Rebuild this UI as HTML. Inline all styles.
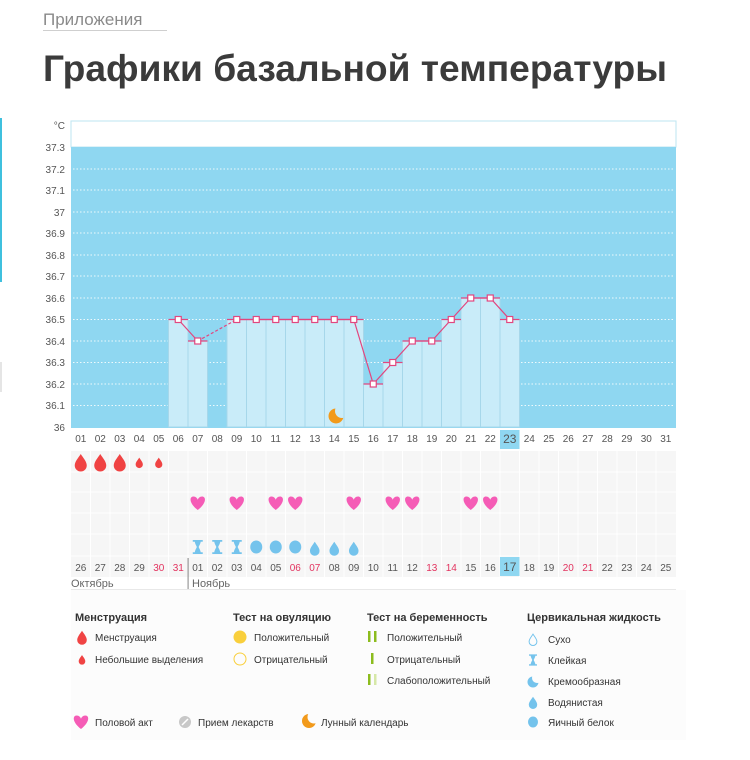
<!DOCTYPE html>
<html><head><meta charset="utf-8"><style>
html,body{margin:0;padding:0;background:#fff;width:750px;height:760px;overflow:hidden}
svg{display:block;font-family:"Liberation Sans",sans-serif}
</style></head><body>
<svg width="750" height="760" viewBox="0 0 750 760" xmlns="http://www.w3.org/2000/svg">
<defs>
<path id="hrt" d="M0,6 C-9,-1 -8.5,-7.5 -4.3,-7.5 C-2,-7.5 -0.6,-6 0,-4.3 C0.6,-6 2,-7.5 4.3,-7.5 C8.5,-7.5 9,-1 0,6Z" fill="#f55cb6"/>
<path id="drp" d="M0,-9 C2.5,-5 6,-1.5 6,2.5 A6,6 0 0 1 -6,2.5 C-6,-1.5 -2.5,-5 0,-9Z"/>
<path id="hg" d="M-5,-7 H5 V-5.3 H3 C2.3,-2 1,-1 1,0 C1,1 2.3,2 3,5.3 H5 V7 H-5 V5.3 H-3 C-2.3,2 -1,1 -1,0 C-1,-1 -2.3,-2 -3,-5.3 H-5Z" fill="#74c3ec"/>
<mask id="m1"><rect x="0" y="0" width="750" height="760" fill="#fff"/><circle cx="342" cy="411" r="7" fill="#000"/></mask>
<mask id="m2"><rect x="0" y="0" width="750" height="760" fill="#fff"/><circle cx="314" cy="717" r="6.5" fill="#000"/></mask>
<mask id="m3"><rect x="0" y="0" width="750" height="760" fill="#fff"/><circle cx="537" cy="678" r="5" fill="#000"/></mask>
</defs>
<rect x="0" y="118" width="2" height="164" fill="#3fc0de"/>
<rect x="0" y="362" width="2" height="30" fill="#e5e5e5"/>
<text x="43" y="25" font-size="17" fill="#8a8a8a">Приложения</text>
<rect x="43" y="30" width="124" height="1" fill="#cfcfcf"/>
<text x="43" y="81" font-size="37" font-weight="bold" fill="#3b3b3b" textLength="624" lengthAdjust="spacingAndGlyphs">Графики базальной температуры</text>

<rect x="71" y="121" width="605" height="26" fill="#fff" stroke="#bde5f2"/>
<rect x="71" y="147" width="605" height="281" fill="#8fd7f1"/>
<g stroke="#fff" stroke-dasharray="1.5 2" stroke-width="1" opacity="0.85">
<line x1="73" x2="675" y1="169" y2="169"/><line x1="73" x2="675" y1="190" y2="190"/><line x1="73" x2="675" y1="212" y2="212"/><line x1="73" x2="675" y1="233" y2="233"/><line x1="73" x2="675" y1="255" y2="255"/><line x1="73" x2="675" y1="276" y2="276"/><line x1="73" x2="675" y1="298" y2="298"/><line x1="73" x2="675" y1="319.5" y2="319.5"/><line x1="73" x2="675" y1="341" y2="341"/><line x1="73" x2="675" y1="362.5" y2="362.5"/><line x1="73" x2="675" y1="384" y2="384"/><line x1="73" x2="675" y1="405.5" y2="405.5"/>
</g>
<g fill="#c9ecf9" stroke="#a6d7ea" stroke-width="1">
<rect x="168.5" y="319.5" width="19.5" height="107.5"/>
<rect x="188" y="341" width="19.5" height="86"/>
<rect x="227" y="319.5" width="19.5" height="107.5"/>
<rect x="246.5" y="319.5" width="19.5" height="107.5"/>
<rect x="266" y="319.5" width="19.5" height="107.5"/>
<rect x="285.5" y="319.5" width="19.5" height="107.5"/>
<rect x="305" y="319.5" width="19.5" height="107.5"/>
<rect x="324.5" y="319.5" width="19.5" height="107.5"/>
<rect x="344" y="319.5" width="19.5" height="107.5"/>
<rect x="363.5" y="384" width="19.5" height="43"/>
<rect x="383" y="362.5" width="19.5" height="64.5"/>
<rect x="402.5" y="341" width="19.5" height="86"/>
<rect x="422" y="341" width="19.5" height="86"/>
<rect x="441.5" y="319.5" width="19.5" height="107.5"/>
<rect x="461" y="298" width="19.5" height="129"/>
<rect x="480.5" y="298" width="19.5" height="129"/>
<rect x="500" y="319.5" width="19.5" height="107.5"/>
</g>
<g stroke="#e2467f" stroke-width="1.2" fill="none">
<path d="M168.5,319.5h19.5 M188,341h19.5 M227,319.5h136.5 M363.5,384h19.5 M383,362.5h19.5 M402.5,341h39 M441.5,319.5h19.5 M461,298h39 M500,319.5h19.5"/>
<polyline points="178.25,319.5 197.75,341"/>
<polyline points="197.75,341 236.75,319.5" stroke-dasharray="3 2"/>
<polyline points="236.75,319.5 353.75,319.5 373.25,384 392.75,362.5 412.25,341 431.75,341 451.25,319.5 470.75,298 490.25,298 509.75,319.5"/>
</g>
<g fill="#fff" stroke="#e2467f" stroke-width="1.2">
<rect x="175.25" y="316.5" width="6" height="6"/><rect x="194.75" y="338" width="6" height="6"/>
<rect x="233.75" y="316.5" width="6" height="6"/><rect x="253.25" y="316.5" width="6" height="6"/><rect x="272.75" y="316.5" width="6" height="6"/><rect x="292.25" y="316.5" width="6" height="6"/><rect x="311.75" y="316.5" width="6" height="6"/><rect x="331.25" y="316.5" width="6" height="6"/><rect x="350.75" y="316.5" width="6" height="6"/>
<rect x="370.25" y="381" width="6" height="6"/><rect x="389.75" y="359.5" width="6" height="6"/><rect x="409.25" y="338" width="6" height="6"/><rect x="428.75" y="338" width="6" height="6"/><rect x="448.25" y="316.5" width="6" height="6"/><rect x="467.75" y="295" width="6" height="6"/><rect x="487.25" y="295" width="6" height="6"/><rect x="506.75" y="316.5" width="6" height="6"/>
</g>
<circle cx="336" cy="416" r="7.5" fill="#f29a1b" mask="url(#m1)"/>
<g font-size="10" fill="#555" text-anchor="end">
<text x="65" y="129">°C</text><text x="65" y="151">37.3</text><text x="65" y="173">37.2</text><text x="65" y="194">37.1</text><text x="65" y="216">37</text><text x="65" y="237">36.9</text><text x="65" y="259">36.8</text><text x="65" y="280">36.7</text><text x="65" y="302">36.6</text><text x="65" y="323">36.5</text><text x="65" y="345">36.4</text><text x="65" y="366">36.3</text><text x="65" y="388">36.2</text><text x="65" y="409">36.1</text><text x="65" y="431">36</text>
</g>
<rect x="500" y="430" width="19.5" height="19" fill="#8fd7f1"/>
<g font-size="10" fill="#555" text-anchor="middle">
<text x="80.75" y="442">01</text><text x="100.25" y="442">02</text><text x="119.75" y="442">03</text><text x="139.25" y="442">04</text><text x="158.75" y="442">05</text><text x="178.25" y="442">06</text><text x="197.75" y="442">07</text><text x="217.25" y="442">08</text><text x="236.75" y="442">09</text><text x="256.25" y="442">10</text><text x="275.75" y="442">11</text><text x="295.25" y="442">12</text><text x="314.75" y="442">13</text><text x="334.25" y="442">14</text><text x="353.75" y="442">15</text><text x="373.25" y="442">16</text><text x="392.75" y="442">17</text><text x="412.25" y="442">18</text><text x="431.75" y="442">19</text><text x="451.25" y="442">20</text><text x="470.75" y="442">21</text><text x="490.25" y="442">22</text><text x="509.75" y="443" font-size="12">23</text><text x="529.25" y="442">24</text><text x="548.75" y="442">25</text><text x="568.25" y="442">26</text><text x="587.75" y="442">27</text><text x="607.25" y="442">28</text><text x="626.75" y="442">29</text><text x="646.25" y="442">30</text><text x="665.75" y="442">31</text>
</g>

<rect x="71" y="451" width="605" height="126" fill="#f6f6f6"/>
<g stroke="#fff" stroke-width="1">
<path d="M71,472H676M71,492H676M71,513H676M71,534H676M71,556H676"/>
<path d="M90.5,451V577M110,451V577M129.5,451V577M149,451V577M168.5,451V577M188,451V577M207.5,451V577M227,451V577M246.5,451V577M266,451V577M285.5,451V577M305,451V577M324.5,451V577M344,451V577M363.5,451V577M383,451V577M402.5,451V577M422,451V577M441.5,451V577M461,451V577M480.5,451V577M500,451V577M519.5,451V577M539,451V577M558.5,451V577M578,451V577M597.5,451V577M617,451V577M636.5,451V577M656,451V577"/>
</g>
<g fill="#f04343">
<use href="#drp" x="80.75" y="463"/><use href="#drp" x="100.25" y="463"/><use href="#drp" x="119.75" y="463"/>
<use href="#drp" transform="translate(139.25,463) scale(0.6)"/><use href="#drp" transform="translate(158.75,463) scale(0.6)"/>
</g>
<use href="#hrt" x="197.75" y="504"/><use href="#hrt" x="236.75" y="504"/><use href="#hrt" x="275.75" y="504"/><use href="#hrt" x="295.25" y="504"/><use href="#hrt" x="353.75" y="504"/><use href="#hrt" x="392.75" y="504"/><use href="#hrt" x="412.25" y="504"/><use href="#hrt" x="470.75" y="504"/><use href="#hrt" x="490.25" y="504"/>
<use href="#hg" x="197.75" y="547"/><use href="#hg" x="217.25" y="547"/><use href="#hg" x="236.75" y="547"/>
<g fill="#74c3ec">
<ellipse cx="256.25" cy="547" rx="6" ry="6.5"/><ellipse cx="275.75" cy="547" rx="6" ry="6.5"/><ellipse cx="295.25" cy="547" rx="6" ry="6.5"/>
<use href="#drp" transform="translate(314.75,549) scale(0.8)"/><use href="#drp" transform="translate(334.25,549) scale(0.8)"/><use href="#drp" transform="translate(353.75,549) scale(0.8)"/>
</g>
<rect x="500" y="557" width="19.5" height="19" fill="#8fd7f1"/>
<g font-size="10" fill="#555" text-anchor="middle">
<text x="80.75" y="571">26</text><text x="100.25" y="571">27</text><text x="119.75" y="571">28</text><text x="139.25" y="571">29</text><text x="158.75" y="571" fill="#e2335f">30</text><text x="178.25" y="571" fill="#e2335f">31</text><text x="197.75" y="571">01</text><text x="217.25" y="571">02</text><text x="236.75" y="571">03</text><text x="256.25" y="571">04</text><text x="275.75" y="571">05</text><text x="295.25" y="571" fill="#e2335f">06</text><text x="314.75" y="571" fill="#e2335f">07</text><text x="334.25" y="571">08</text><text x="353.75" y="571">09</text><text x="373.25" y="571">10</text><text x="392.75" y="571">11</text><text x="412.25" y="571">12</text><text x="431.75" y="571" fill="#e2335f">13</text><text x="451.25" y="571" fill="#e2335f">14</text><text x="470.75" y="571">15</text><text x="490.25" y="571">16</text><text x="509.75" y="571" font-size="12">17</text><text x="529.25" y="571">18</text><text x="548.75" y="571">19</text><text x="568.25" y="571" fill="#e2335f">20</text><text x="587.75" y="571" fill="#e2335f">21</text><text x="607.25" y="571">22</text><text x="626.75" y="571">23</text><text x="646.25" y="571">24</text><text x="665.75" y="571">25</text>
</g>
<rect x="187.5" y="558" width="1.2" height="31" fill="#999"/>
<text x="71" y="587" font-size="11" fill="#666">Октябрь</text>
<text x="192" y="587" font-size="11" fill="#666">Ноябрь</text>
<rect x="71" y="589" width="605" height="1" fill="#e8e8e8"/>
<rect x="71" y="590" width="615" height="150" fill="#fcfcfc"/>

<g font-size="11" font-weight="bold" fill="#333">
<text x="75" y="621">Менструация</text><text x="233" y="621">Тест на овуляцию</text><text x="367" y="621">Тест на беременность</text><text x="527" y="621">Цервикальная жидкость</text>
</g>
<g font-size="10" fill="#333">
<text x="95" y="641">Менструация</text><text x="95" y="663">Небольшие выделения</text>
<text x="254" y="641">Положительный</text><text x="254" y="663">Отрицательный</text>
<text x="387" y="641">Положительный</text><text x="387" y="663">Отрицательный</text><text x="387" y="684">Слабоположительный</text>
<text x="548" y="643">Сухо</text><text x="548" y="664">Клейкая</text><text x="548" y="685">Кремообразная</text><text x="548" y="706">Водянистая</text><text x="548" y="726">Яичный белок</text>
<text x="95" y="726">Половой акт</text><text x="198" y="726">Прием лекарств</text><text x="321" y="726">Лунный календарь</text>
</g>
<g fill="#f04343"><use href="#drp" transform="translate(82,638) scale(0.8)"/><use href="#drp" transform="translate(82,660) scale(0.55)"/></g>
<circle cx="240" cy="637" r="6.5" fill="#f9cf3c"/>
<circle cx="240" cy="659" r="6" fill="none" stroke="#f9cf3c"/>
<g fill="#8cbc1e"><rect x="368" y="631" width="2.5" height="11"/><rect x="374" y="631" width="2.5" height="11"/><rect x="371" y="653" width="2.5" height="11"/><rect x="368" y="674" width="2.5" height="11"/></g>
<rect x="374" y="674" width="2.5" height="11" fill="#d6e8a8"/>
<g transform="translate(533,640) scale(0.65)"><use href="#drp" fill="none" stroke="#74c3ec" stroke-width="1.5"/></g>
<use href="#hg" transform="translate(533,660) scale(0.8)"/>
<circle cx="533" cy="682" r="5.5" fill="#74c3ec" mask="url(#m3)"/>
<use href="#drp" transform="translate(533,703) scale(0.7)" fill="#74c3ec"/>
<ellipse cx="533" cy="722" rx="5" ry="5.5" fill="#74c3ec"/>
<use href="#hrt" x="81" y="723"/>
<circle cx="185" cy="722" r="6" fill="#c8c8c8"/><path d="M182,725 L188,719" stroke="#fff" stroke-width="1.5"/>
<circle cx="309" cy="721" r="7" fill="#f29a1b" mask="url(#m2)"/>
</svg>
</body></html>
